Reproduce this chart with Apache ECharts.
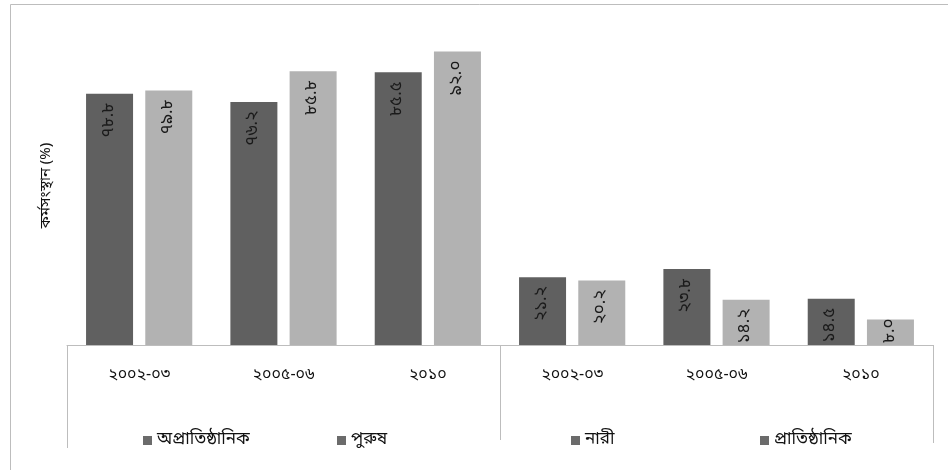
<!DOCTYPE html>
<html>
<head>
<meta charset="utf-8">
<script src="https://cdn.jsdelivr.net/npm/echarts@6/dist/echarts.min.js"></script>
<style>
  html, body { margin: 0; padding: 0; background: #fff; }
  #chart { width: 948px; height: 470px; }
</style>
</head>
<body>
<div id="chart"></div>
<script>
// Survey years, shown twice (one block per sector group)
const categories = ['২০০২-০৩', '২০০৫-০৬', '২০১০', '২০০২-০৩', '২০০৫-০৬', '২০১০'];
// Employment share (%)
const darkValues  = [78.8, 76.2, 85.5, 21.2, 23.8, 14.5];
const lightValues = [79.8, 85.8, 92.0, 20.2, 14.2, 8.0];
const legendNames = ['অপ্রাতিষ্ঠানিক', 'পুরুষ', 'নারী', 'প্রাতিষ্ঠানিক'];
const axisTitle = 'কর্মসংস্থান (%)';

const FONT = '"Noto Sans Bengali", "Noto Serif Bengali", "Lohit Bengali", "Noto Sans", sans-serif';
const DARK = '#606060';
const LIGHT = '#b2b2b2';
const FRAME = '#bdbdbd';

const GRID_LEFT = 67, GRID_RIGHT = 15, GRID_TOP = 26, GRID_BOTTOM = 125;
const W = 948, H = 470;
const baseY = H - GRID_BOTTOM;

const bnDigits = ['০','১','২','৩','৪','৫','৬','৭','৮','৯'];
function toBn(v) {
  return v.toFixed(1).replace(/[0-9]/g, d => bnDigits[+d]);
}

// short bars get their label anchored at the bar foot so it runs up past the top
function withLabels(values) {
  return values.map(v => v < 10
    ? { value: v, label: { position: 'insideBottom', align: 'left', distance: 2 } }
    : v);
}

const chart = echarts.init(document.getElementById('chart'), null, { renderer: 'canvas' });

const barLabel = {
  show: true,
  position: 'insideTop',
  rotate: 90,
  align: 'right',
  verticalAlign: 'middle',
  distance: 9,
  fontFamily: FONT,
  fontSize: 17,
  color: '#1a1a1a',
  formatter: p => toBn(p.value)
};

const legendLefts = [143, 337, 571, 760];
const legends = legendNames.map((name, i) => ({
  data: [{ name: name, itemStyle: { color: '#6b6b6b' } }],
  left: legendLefts[i],
  top: 432,
  padding: 0,
  icon: 'rect',
  itemWidth: 9,
  itemHeight: 9,
  selectedMode: false,
  textStyle: { fontFamily: FONT, fontSize: 17, color: '#111' }
}));

// frame lines of the category band under the plot
const bandW = (W - GRID_LEFT - GRID_RIGHT) / categories.length;
const xL = GRID_LEFT + 0.5;
const xM = Math.round(GRID_LEFT + bandW * 3) + 0.5;
const xR = W - GRID_RIGHT + 0.5;

chart.setOption({
  animation: false,
  backgroundColor: '#fff',
  grid: { left: GRID_LEFT, right: GRID_RIGHT, top: GRID_TOP, bottom: GRID_BOTTOM },
  legend: legends,
  xAxis: {
    type: 'category',
    data: categories,
    axisLine: { show: true, lineStyle: { color: FRAME, width: 1 } },
    axisTick: { show: false },
    axisLabel: { margin: 23, fontFamily: FONT, fontSize: 16, color: '#111' }
  },
  yAxis: {
    type: 'value',
    min: 0,
    max: 100,
    name: axisTitle,
    nameLocation: 'middle',
    nameGap: 12,
    nameTextStyle: { fontFamily: FONT, fontSize: 15, color: '#111' },
    axisLine: { show: false },
    axisTick: { show: false },
    axisLabel: { show: false },
    splitLine: { show: false }
  },
  series: [
    {
      name: legendNames[0],
      type: 'bar',
      data: withLabels(darkValues),
      barWidth: 47,
      barGap: '26%',
      itemStyle: { color: DARK },
      label: barLabel
    },
    {
      name: legendNames[1],
      type: 'bar',
      data: withLabels(lightValues),
      barWidth: 47,
      barGap: '26%',
      itemStyle: { color: LIGHT },
      label: barLabel
    },
    { name: legendNames[2], type: 'line', data: [] },
    { name: legendNames[3], type: 'line', data: [] }
  ],
  graphic: [
    { type: 'rect', silent: true, shape: { x: 10.5, y: 4.5, width: 2000, height: 2000 },
      style: { fill: null, stroke: FRAME, lineWidth: 1 } },
    { type: 'line', silent: true, shape: { x1: xL, y1: baseY, x2: xL, y2: 448 },
      style: { stroke: FRAME, lineWidth: 1 } },
    { type: 'line', silent: true, shape: { x1: xM, y1: baseY, x2: xM, y2: 440 },
      style: { stroke: FRAME, lineWidth: 1 } },
    { type: 'line', silent: true, shape: { x1: xR, y1: baseY, x2: xR, y2: 443 },
      style: { stroke: FRAME, lineWidth: 1 } }
  ]
});
</script>
</body>
</html>
